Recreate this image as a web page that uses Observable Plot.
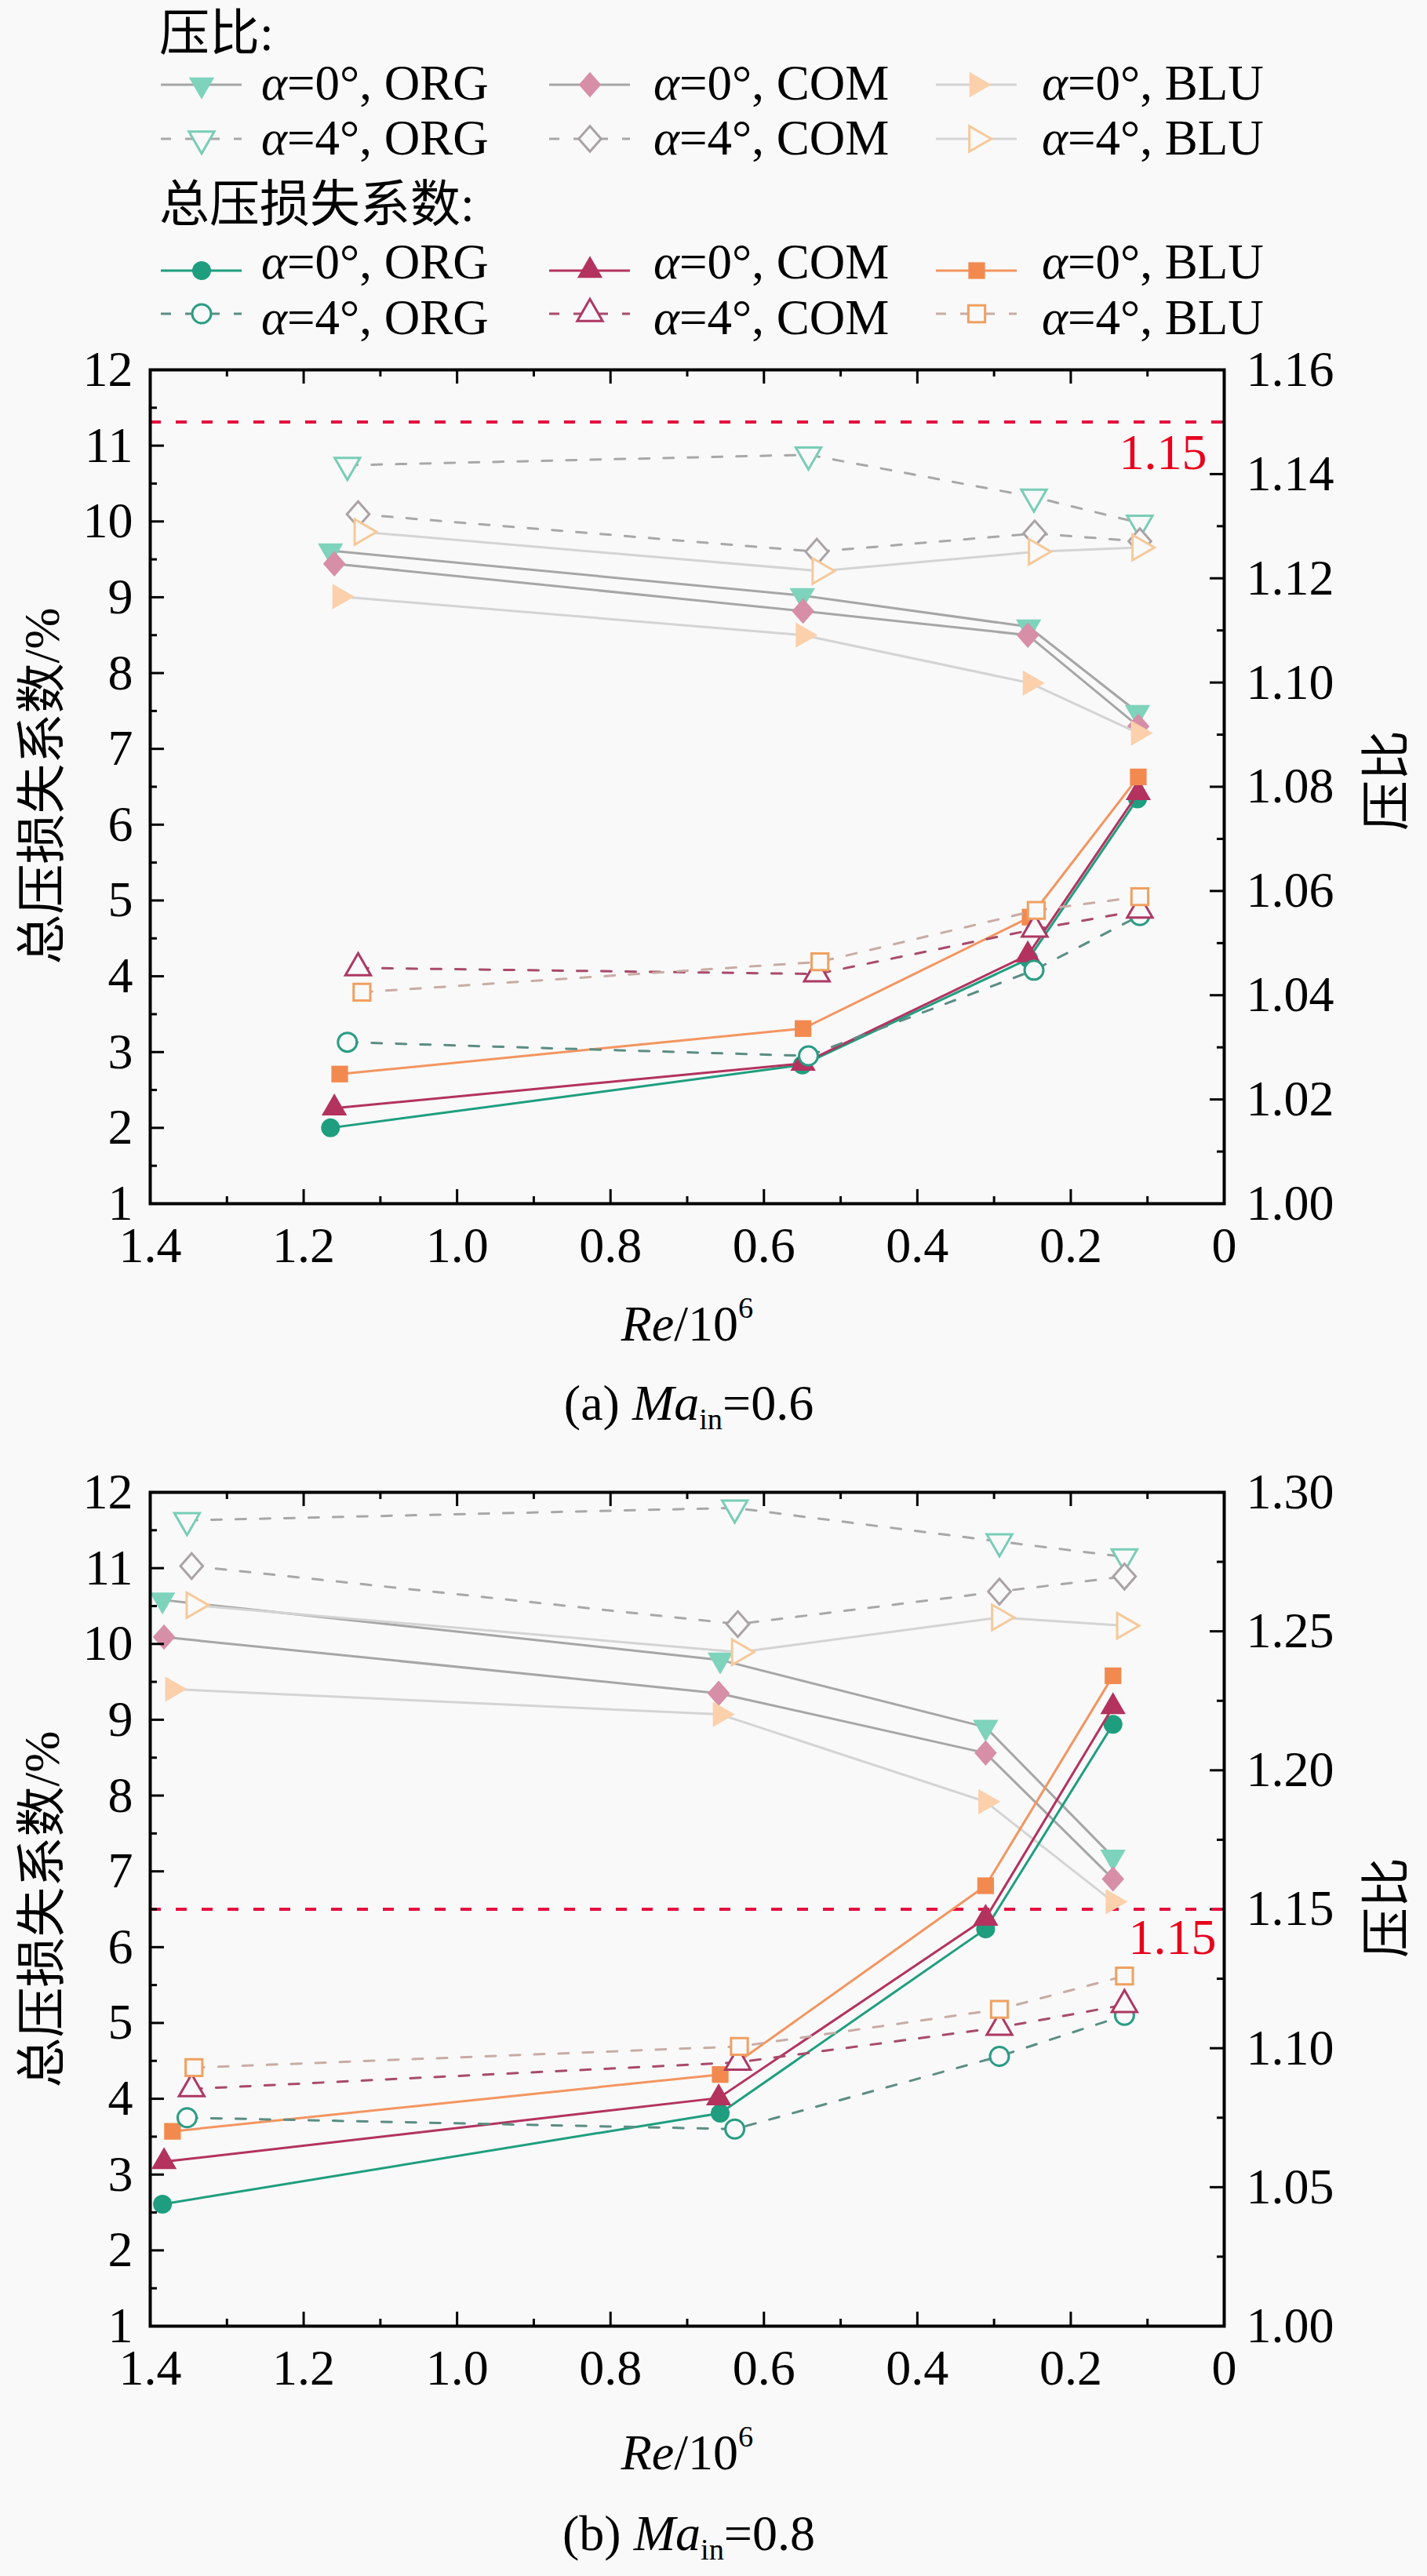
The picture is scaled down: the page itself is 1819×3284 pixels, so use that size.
<!DOCTYPE html>
<html><head><meta charset="utf-8">
<script src="https://cdn.jsdelivr.net/npm/d3@7"></script>
<script src="https://cdn.jsdelivr.net/npm/@observablehq/plot@0.6"></script>
<style>
body{margin:0;background:#f9f9f9;}
#root{position:relative;width:1819px;height:3284px;font-family:"Liberation Serif","Tinos","Times New Roman","Nimbus Roman","DejaVu Serif",serif;color:#000;overflow:hidden;}
.lab{position:absolute;white-space:nowrap;font-size:64px;line-height:64px;transform:translate(-50%,-50%);}
.rot{transform:translate(-50%,-50%) rotate(-90deg);}
.cjk{font-family:"Noto Sans CJK SC",sans-serif;}
</style></head>
<body><div id="root"></div>
<script>
// ---------------- DATA ----------------
// tick values / labels
const xMajor = [1.4, 1.2, 1.0, 0.8, 0.6, 0.4, 0.2, 0];
const xMajorLabels = ["1.4", "1.2", "1.0", "0.8", "0.6", "0.4", "0.2", "0"];
const xMinor = [1.3, 1.1, 0.9, 0.7, 0.5, 0.3, 0.1];
const lossMajor = [1, 2, 3, 4, 5, 6, 7, 8, 9, 10, 11, 12];
const lossMinor = [1.5, 2.5, 3.5, 4.5, 5.5, 6.5, 7.5, 8.5, 9.5, 10.5, 11.5];
const prMajorA = [1.00, 1.02, 1.04, 1.06, 1.08, 1.10, 1.12, 1.14, 1.16];
const prMinorA = [1.01, 1.03, 1.05, 1.07, 1.09, 1.11, 1.13, 1.15];
const prMajorB = [1.00, 1.05, 1.10, 1.15, 1.20, 1.25, 1.30];
const prMinorB = [1.025, 1.075, 1.125, 1.175, 1.225, 1.275];
const prLimit = [1.15];

// Panel (a) Ma_in = 0.6 : Re/10^6 per configuration
const reA_ORG0 = [1.165, 0.550, 0.255, 0.113];
const reA_COM0 = [1.160, 0.549, 0.256, 0.112];
const reA_BLU0 = [1.153, 0.549, 0.253, 0.112];
const reA_ORG4 = [1.143, 0.542, 0.248, 0.110];
const reA_COM4 = [1.129, 0.531, 0.247, 0.110];
const reA_BLU4 = [1.124, 0.527, 0.245, 0.110];
// pressure ratio (right axis)
const prA_ORG0 = [1.1253, 1.1167, 1.1107, 1.0943];
const prA_COM0 = [1.1228, 1.1137, 1.1091, 1.0916];
const prA_BLU0 = [1.1165, 1.1091, 1.0999, 1.0903];
const prA_ORG4 = [1.1417, 1.1437, 1.1356, 1.1306];
const prA_COM4 = [1.1323, 1.1251, 1.1286, 1.1271];
const prA_BLU4 = [1.1289, 1.1214, 1.1251, 1.1259];
// total pressure loss coefficient % (left axis)
const lossA_ORG0 = [2.00, 2.83, 4.23, 6.34];
const lossA_COM0 = [2.26, 2.85, 4.28, 6.42];
const lossA_BLU0 = [2.71, 3.31, 4.78, 6.63];
const lossA_ORG4 = [3.13, 2.95, 4.08, 4.80];
const lossA_COM4 = [4.11, 4.03, 4.62, 4.87];
const lossA_BLU4 = [3.79, 4.19, 4.87, 5.05];

// Panel (b) Ma_in = 0.8
const reB_ORG0 = [1.384, 0.657, 0.311, 0.145];
const reB_COM0 = [1.382, 0.659, 0.311, 0.145];
const reB_BLU0 = [1.371, 0.657, 0.311, 0.145];
const reB_ORG4 = [1.352, 0.638, 0.293, 0.130];
const reB_COM4 = [1.346, 0.634, 0.293, 0.130];
const reB_BLU4 = [1.343, 0.632, 0.293, 0.130];
const prB_ORG0 = [1.2613, 1.2397, 1.2155, 1.1688];
const prB_COM0 = [1.2479, 1.2277, 1.2062, 1.1609];
const prB_BLU0 = [1.2292, 1.2201, 1.1887, 1.1527];
const prB_ORG4 = [1.2899, 1.2944, 1.2823, 1.2768];
const prB_COM4 = [1.2735, 1.2526, 1.2643, 1.2697];
const prB_BLU4 = [1.2594, 1.2425, 1.2550, 1.2520];
const lossB_ORG0 = [2.61, 3.81, 6.24, 8.94];
const lossB_COM0 = [3.17, 4.01, 6.38, 9.17];
const lossB_BLU0 = [3.57, 4.32, 6.81, 9.58];
const lossB_ORG4 = [3.75, 3.60, 4.56, 5.10];
const lossB_COM4 = [4.13, 4.48, 4.94, 5.24];
const lossB_BLU4 = [4.41, 4.69, 5.18, 5.62];

// ---------------- STYLE ----------------
const FONT = '"Liberation Serif","Tinos","Times New Roman","Nimbus Roman","DejaVu Serif",serif';
const CJK = '"Noto Sans CJK SC",sans-serif';
const BG = "#f9f9f9";
const W = 1819, ML = 191, MR = 259, MT = 41, FH = 1063, MB = 110;
const FW = W - ML - MR;
const H = MT + FH + MB;

const triDown = {draw(ctx, size) {
  const s = Math.sqrt(size * 4 / Math.sqrt(3)), h = s * Math.sqrt(3) / 2;
  ctx.moveTo(-s / 2, -h / 3); ctx.lineTo(s / 2, -h / 3); ctx.lineTo(0, 2 * h / 3); ctx.closePath();
}};
const triRight = {draw(ctx, size) {
  const s = Math.sqrt(size * 4 / Math.sqrt(3)), h = s * Math.sqrt(3) / 2;
  ctx.moveTo(-h / 3, -s / 2); ctx.lineTo(2 * h / 3, 0); ctx.lineTo(-h / 3, s / 2); ctx.closePath();
}};
const triUp = {draw(ctx, size) {
  const s = Math.sqrt(size * 4 / Math.sqrt(3)), h = s * Math.sqrt(3) / 2;
  ctx.moveTo(-s / 2, h / 3); ctx.lineTo(s / 2, h / 3); ctx.lineTo(0, -2 * h / 3); ctx.closePath();
}};
const diamond = {draw(ctx, size) {
  const a = Math.sqrt(size / 2);
  ctx.moveTo(0, -a * 1.08); ctx.lineTo(a * 0.95, 0); ctx.lineTo(0, a * 1.08); ctx.lineTo(-a * 0.95, 0); ctx.closePath();
}};

const keys = ["ORG0", "COM0", "BLU0", "ORG4", "COM4", "BLU4"];
const labelOf = {ORG0: ["0", "ORG"], COM0: ["0", "COM"], BLU0: ["0", "BLU"], ORG4: ["4", "ORG"], COM4: ["4", "COM"], BLU4: ["4", "BLU"]};
const prStyle = {
  ORG0: {line: "#a6a6a6", dash: null, sym: triDown, fill: "#7dd3bb", stroke: "none"},
  COM0: {line: "#a6a6a6", dash: null, sym: diamond, fill: "#d78ea7", stroke: "none"},
  BLU0: {line: "#d4d4d4", dash: null, sym: triRight, fill: "#fbd0ab", stroke: "none"},
  ORG4: {line: "#a8a8a8", dash: "13,18", sym: triDown, fill: BG, stroke: "#79cdb6"},
  COM4: {line: "#a8a8a8", dash: "13,18", sym: diamond, fill: BG, stroke: "#aaa2a6"},
  BLU4: {line: "#d4d4d4", dash: null, sym: triRight, fill: BG, stroke: "#f6c999"}
};
const lossStyle = {
  ORG0: {line: "#1e9e7f", dash: null, sym: "circle", fill: "#1e9e7f", stroke: "none"},
  COM0: {line: "#b3325e", dash: null, sym: triUp, fill: "#b3325e", stroke: "none"},
  BLU0: {line: "#f39560", dash: null, sym: "square", fill: "#f28a50", stroke: "none"},
  ORG4: {line: "#5b8d84", dash: "13,18", sym: "circle", fill: BG, stroke: "#2a9c84"},
  COM4: {line: "#a84a6b", dash: "13,18", sym: triUp, fill: BG, stroke: "#ad3863"},
  BLU4: {line: "#c8aca4", dash: "13,18", sym: "square", fill: BG, stroke: "#f0a060"}
};

const root = document.getElementById("root");

function rows(re, v) { return re.map((r, i) => ({re: r, v: v[i]})); }

function seriesMarks(data, st, r) {
  return [
    Plot.line(data, {x: "re", y: "v", stroke: st.line, strokeWidth: 3, strokeDasharray: st.dash || undefined}),
    Plot.dot(data, {x: "re", y: "v", symbol: st.sym, r: r, fill: st.fill, stroke: st.stroke, strokeWidth: 3})
  ];
}

function panel(top, re, pr, loss, prDomain, prMaj, prMin, labelOff) {
  const common = {
    width: W, height: H, marginLeft: ML, marginRight: MR, marginTop: MT, marginBottom: MB,
    style: {background: "transparent", fontFamily: FONT, fontSize: "64px", color: "#000", overflow: "visible"}
  };
  // pressure-ratio layer (right axis)
  const prMarks = [
    Plot.tickY(prMaj, {y: d => d, insetLeft: FW - 18, stroke: "#000", strokeWidth: 3}),
    Plot.tickY(prMin, {y: d => d, insetLeft: FW - 9, stroke: "#000", strokeWidth: 3}),
    Plot.axisY({anchor: "right", ticks: prMaj, tickSize: 0, tickPadding: 28, tickFormat: d3.format(".2f"), label: null, fontSize: 64}),
    Plot.ruleY(prLimit, {y: d => d, stroke: "#e4103e", strokeWidth: 4, strokeDasharray: "14,19"}),
    Plot.text(prLimit, {y: d => d, frameAnchor: "right", dx: labelOff[0], dy: labelOff[1], text: d => d3.format(".2f")(d), textAnchor: "end", fill: "#e8001c", fontSize: 64})
  ];
  for (const k of keys) prMarks.push(...seriesMarks(rows(re[k], pr[k]), prStyle[k], 12));
  const prPlot = Plot.plot({...common, x: {domain: [1.4, 0], axis: null}, y: {domain: prDomain}, marks: prMarks});

  const lossMarks = [
    Plot.frame({stroke: "#000", strokeWidth: 4}),
    Plot.tickX(xMajor, {x: d => d, insetTop: FH - 18, stroke: "#000", strokeWidth: 3}),
    Plot.tickX(xMinor, {x: d => d, insetTop: FH - 9, stroke: "#000", strokeWidth: 3}),
    Plot.tickX(xMajor, {x: d => d, insetBottom: FH - 18, stroke: "#000", strokeWidth: 3}),
    Plot.tickX(xMinor, {x: d => d, insetBottom: FH - 9, stroke: "#000", strokeWidth: 3}),
    Plot.tickY(lossMajor, {y: d => d, insetRight: FW - 18, stroke: "#000", strokeWidth: 3}),
    Plot.tickY(lossMinor, {y: d => d, insetRight: FW - 9, stroke: "#000", strokeWidth: 3}),
    Plot.axisX({ticks: xMajor, tickSize: 0, tickPadding: 29, tickFormat: d => xMajorLabels[xMajor.indexOf(d)], label: null, fontSize: 64}),
    Plot.axisY({ticks: lossMajor, tickSize: 0, tickPadding: 22, tickFormat: d => String(d), label: null, fontSize: 64})
  ];
  for (const k of keys) lossMarks.push(...seriesMarks(rows(re[k], loss[k]), lossStyle[k], 12));
  const lossPlot = Plot.plot({...common, x: {domain: [1.4, 0]}, y: {domain: [1, 12]}, marks: lossMarks});

  for (const svg of [prPlot, lossPlot]) {
    svg.style.position = "absolute";
    svg.style.left = "0px";
    svg.style.top = top + "px";
    root.appendChild(svg);
  }
}

function pack(a, b, c, d, e, f) { return {ORG0: a, COM0: b, BLU0: c, ORG4: d, COM4: e, BLU4: f}; }

panel(471 - MT,
  pack(reA_ORG0, reA_COM0, reA_BLU0, reA_ORG4, reA_COM4, reA_BLU4),
  pack(prA_ORG0, prA_COM0, prA_BLU0, prA_ORG4, prA_COM4, prA_BLU4),
  pack(lossA_ORG0, lossA_COM0, lossA_BLU0, lossA_ORG4, lossA_COM4, lossA_BLU4),
  [1.00, 1.16], prMajorA, prMinorA, [-22, 40]);

panel(1902 - MT,
  pack(reB_ORG0, reB_COM0, reB_BLU0, reB_ORG4, reB_COM4, reB_BLU4),
  pack(prB_ORG0, prB_COM0, prB_BLU0, prB_ORG4, prB_COM4, prB_BLU4),
  pack(lossB_ORG0, lossB_COM0, lossB_BLU0, lossB_ORG4, lossB_COM4, lossB_BLU4),
  [1.00, 1.30], prMajorB, prMinorB, [-10, 37]);

// ---------------- TEXT LABELS ----------------
function addLabel(html, x, y, cls) {
  const d = document.createElement("div");
  d.className = "lab " + (cls || "");
  d.style.left = x + "px"; d.style.top = y + "px";
  d.innerHTML = html;
  root.appendChild(d);
}
const yTitle = '<span class="cjk">总压损失系数</span>/%';
const rTitle = '<span class="cjk">压比</span>';
const xTitle = '<i>Re</i>/10<sup style="font-size:0.6em;vertical-align:0.75em;line-height:0">6</sup>';
addLabel(yTitle, 50, 1002, "rot");
addLabel(rTitle, 1764, 995, "rot");
addLabel(xTitle, 876, 1688);
addLabel('(a) <i>Ma</i><sub style="font-size:0.6em;vertical-align:-0.3em;line-height:0">in</sub>=0.6', 878, 1789);
addLabel(yTitle, 50, 2434, "rot");
addLabel(rTitle, 1764, 2432, "rot");
addLabel(xTitle, 876, 3127);
addLabel('(b) <i>Ma</i><sub style="font-size:0.6em;vertical-align:-0.3em;line-height:0">in</sub>=0.8', 878, 3230);

// ---------------- LEGEND ----------------
const leg = d3.select(root).append("svg")
  .attr("width", W).attr("height", 440)
  .style("position", "absolute").style("left", "0px").style("top", "0px")
  .style("font-family", FONT).style("font-size", "63px");
const colX = [205, 700, 1193], textX = [333, 833, 1328];
function legendGroup(headingY, lineYs, textYs, styles, headingText) {
  const t = leg.append("text").attr("x", 203).attr("y", headingY).attr("font-size", 64);
  t.append("tspan").attr("font-family", CJK).text(headingText);
  t.append("tspan").text(":");
  keys.forEach((k, i) => {
    const row = Math.floor(i / 3), col = i % 3;
    const y = lineYs[row], x0 = colX[col], st = styles[k];
    leg.append("line").attr("x1", x0).attr("x2", x0 + 103).attr("y1", y).attr("y2", y)
      .attr("stroke", st.line).attr("stroke-width", 3).attr("stroke-dasharray", st.dash);
    const symType = st.sym === "circle" ? d3.symbolCircle : st.sym === "square" ? d3.symbolSquare : st.sym;
    leg.append("path").attr("transform", `translate(${x0 + 52},${y})`)
      .attr("d", d3.symbol(symType, Math.PI * 144)())
      .attr("fill", st.fill).attr("stroke", st.stroke).attr("stroke-width", 3);
    const tx = leg.append("text").attr("x", textX[col]).attr("y", textYs[row]);
    tx.append("tspan").attr("font-style", "italic").text("α");
    tx.append("tspan").text(`=${labelOf[k][0]}°, ${labelOf[k][1]}`);
  });
}
legendGroup(64, [108, 177], [127, 197], prStyle, "压比");
legendGroup(282, [345, 400], [355, 426], lossStyle, "总压损失系数");
</script>
</body></html>
